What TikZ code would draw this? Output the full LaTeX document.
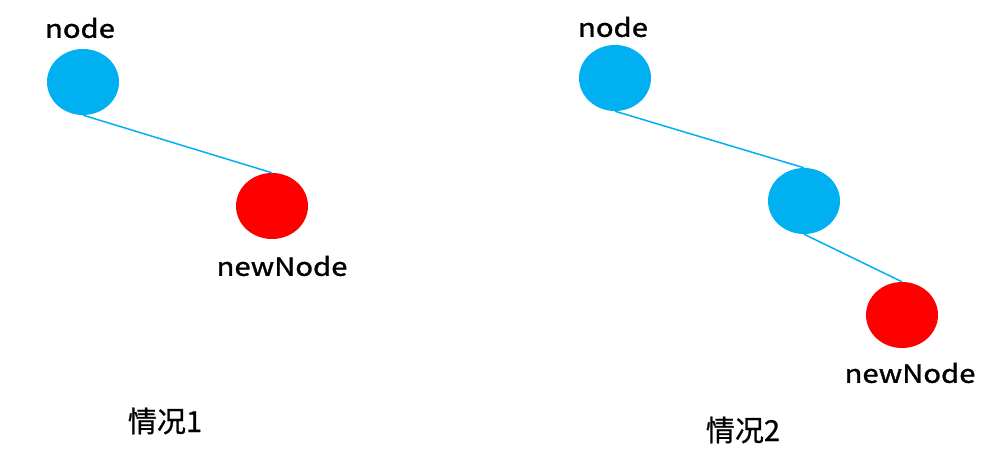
\documentclass[tikz,border=0pt]{standalone}
\usepackage{fontspec}
\setmainfont{Noto Sans CJK SC}
\newfontfamily\widelatin[FakeStretch=1.17, FakeBold=1.3]{Noto Sans CJK SC}
\newfontfamily\casefont[FakeBold=0.8]{Noto Sans CJK SC}
\usetikzlibrary{shapes.geometric,positioning}
\definecolor{bstblue}{RGB}{0,176,240}
\definecolor{bstred}{RGB}{255,0,0}
\tikzset{
  treenode/.style={ellipse, fill=bstblue, minimum width=72pt, minimum height=66pt, inner sep=0pt},
  newnode/.style={treenode, fill=bstred},
  link/.style={bstblue, line width=1.5pt},
  lbl/.style={font=\widelatin\fontsize{25}{28}\selectfont},
  caselbl/.style={font=\casefont\fontsize{29}{32}\selectfont}
}

\begin{document}
\begin{tikzpicture}[x=1pt, y=1pt]
  \useasboundingbox (0,0) rectangle (988,456);

  % Case 1
  \node[treenode] (n1) at (83,374) {};
  \node[newnode] (r1) at (272,250) {};
  \draw[link] (n1.south) -- (r1.north);
  \node[lbl] (n1lbl) at (80,428) {node};
  \node[lbl] (r1lbl) at (282,190) {newNode};
  \node[caselbl] (case1) at (165,35) {情况1};

  % Case 2
  \node[treenode] (n2) at (615,378) {};
  \node[treenode] (m2) at (804,255) {};
  \node[newnode] (r2) at (902,141) {};
  \draw[link] (n2.south) -- (m2.north);
  \draw[link] (m2.south) -- (r2.north);
  \node[lbl] (n2lbl) at (613,429) {node};
  \node[lbl] (r2lbl) at (910,83) {newNode};
  \node[caselbl] (case2) at (743,26) {情况2};
\end{tikzpicture}
\end{document}
